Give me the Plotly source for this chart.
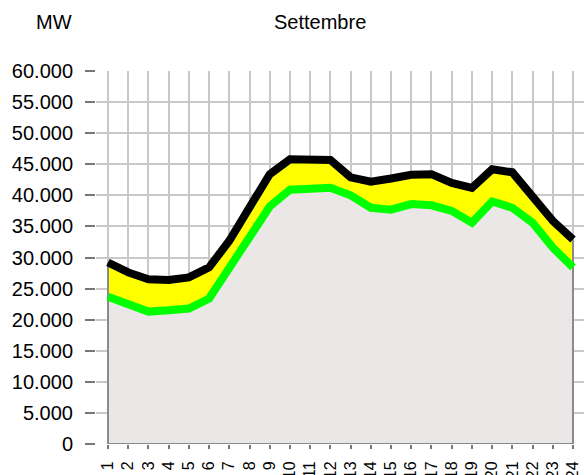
import plotly.graph_objects as go

hours = list(range(1, 25))
hour_labels = [str(h) for h in hours]
upper = [29200, 27600, 26500, 26400, 26800, 28400, 32700, 38000, 43400, 45800, 45800, 45700,
         42900, 42200, 42700, 43300, 43400, 42000, 41200, 44200, 43700, 39600, 35900, 32900]
lower = [23700, 22400, 21300, 21500, 21800, 23400, 28300, 33100, 38200, 40900, 40900, 41200,
         40000, 38000, 37700, 38600, 38400, 37500, 35600, 39000, 38000, 35600, 31600, 28400]
y_ticks = list(range(0, 60001, 5000))
y_tick_labels = [f"{v:,}".replace(",", ".") for v in y_ticks]

FONT = "Liberation Sans, Arial, sans-serif"

fig = go.Figure()
# gray area under the lower curve
fig.add_trace(go.Scatter(x=hours, y=lower, mode="lines", line=dict(width=0),
                         fill="tozeroy", fillcolor="#EBE7E7", hoverinfo="skip"))
# yellow band between lower and upper
fig.add_trace(go.Scatter(x=hours, y=upper, mode="lines", line=dict(width=0),
                         fill="tonexty", fillcolor="#FFFF00", hoverinfo="skip"))
# thin dark outline of the area (sides and base)
fig.add_trace(go.Scatter(x=[hours[0], hours[0], hours[-1], hours[-1]],
                         y=[upper[0], 0, 0, upper[-1]], mode="lines",
                         line=dict(color="#8A8A8A", width=2), hoverinfo="skip"))
# edges
fig.add_trace(go.Scatter(x=hours, y=lower, mode="lines",
                         line=dict(color="#00FF00", width=8, shape="linear")))
fig.add_trace(go.Scatter(x=hours, y=upper, mode="lines",
                         line=dict(color="#000000", width=8, shape="linear")))

W, H = 584, 475
ml, mr, mt, mb = 96, 0, 71, 31
pw, ph = W - ml - mr, H - mt - mb

def px_to_paper_x(px):
    return (px - ml) / pw

def px_to_paper_y(py):
    return (H - mb - py) / ph

fig.update_layout(
    width=W, height=H,
    margin=dict(l=ml, r=mr, t=mt, b=mb, pad=0, autoexpand=False),
    paper_bgcolor="white", plot_bgcolor="white",
    showlegend=False,
    font=dict(family=FONT, color="#000000"),
    annotations=[
        dict(text="MW", xref="paper", yref="paper", x=px_to_paper_x(54), y=px_to_paper_y(22),
             xanchor="center", yanchor="middle", showarrow=False, font=dict(size=20, family=FONT)),
        dict(text="Settembre", xref="paper", yref="paper", x=px_to_paper_x(320), y=px_to_paper_y(22),
             xanchor="center", yanchor="middle", showarrow=False, font=dict(size=20, family=FONT)),
    ],
)

fig.update_xaxes(
    range=[1 - 12 / 20.217, 24 + 11 / 20.217],
    tickmode="array", tickvals=hours, ticktext=hour_labels,
    tickangle=-90, tickfont=dict(size=16, family=FONT),
    ticks="outside", ticklen=4, tickcolor="#777777", tickwidth=1.5,
    ticklabelstandoff=6,
    showgrid=True, gridcolor="#C8C8C8", gridwidth=2,
    zeroline=False, showline=False, automargin=False,
)
fig.update_yaxes(
    range=[0, 60000],
    tickmode="array", tickvals=y_ticks, ticktext=y_tick_labels,
    tickfont=dict(size=20, family=FONT),
    ticks="outside", ticklen=10, tickcolor="#777777", tickwidth=1.5,
    ticklabelstandoff=8,
    showgrid=True, gridcolor="#C8C8C8", gridwidth=2,
    zeroline=False, showline=False, automargin=False,
)

fig.write_html("out.html", config={"displayModeBar": False},
               post_script="document.body.style.margin='0';document.body.style.padding='0';")
